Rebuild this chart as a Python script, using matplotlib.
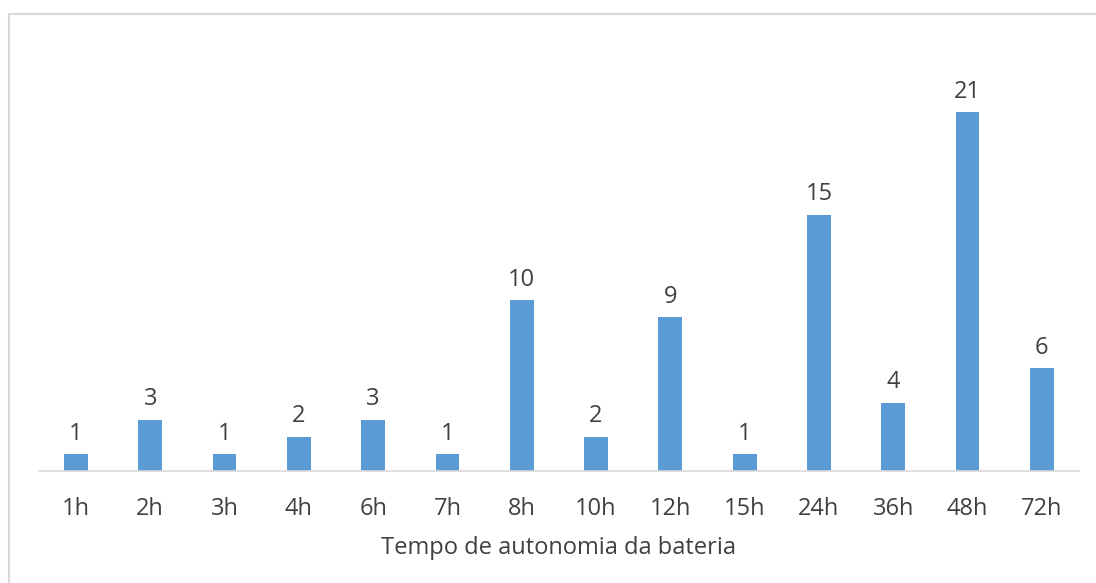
import matplotlib.pyplot as plt
from matplotlib.patches import Rectangle

plt.rcParams['font.family'] = ['Open Sans', 'DejaVu Sans']

categorias = ['1h', '2h', '3h', '4h', '6h', '7h', '8h', '10h', '12h', '15h', '24h', '36h', '48h', '72h']
valores = [1, 3, 1, 2, 3, 1, 10, 2, 9, 1, 15, 4, 21, 6]

fig = plt.figure(figsize=(10.96, 5.83), dpi=100)
ax = fig.add_axes([0.0354, 0.1921, 0.9491, 0.733])

# moldura do grafico
fig.patches.append(Rectangle((9 / 1096, -0.1), 1.2, 1 - 14 / 583 + 0.1,
                             transform=fig.transFigure, fill=False,
                             edgecolor='#d9d9d9', linewidth=1.5))

x = range(len(categorias))
bars = ax.bar(x, valores, width=0.32, color='#5B9BD5')

for b, v in zip(bars, valores):
    ax.annotate(str(v), (b.get_x() + b.get_width() / 2, v),
                xytext=(0, 6), textcoords='offset points',
                ha='center', va='bottom', fontsize=17, color='#404040')

ax.set_xlim(-0.5, len(categorias) - 0.5)
ax.set_ylim(0, 25)
ax.set_xticks(list(x))
ax.set_xticklabels(categorias, fontsize=17, color='#404040')
ax.tick_params(axis='x', length=0, pad=18.5)
ax.set_yticks([])
for s in ['top', 'right', 'left']:
    ax.spines[s].set_visible(False)
ax.spines['bottom'].set_color('#d9d9d9')
ax.spines['bottom'].set_linewidth(1.2)
ax.set_xlabel('Tempo de autonomia da bateria', fontsize=17, color='#404040', labelpad=11)

fig.savefig('out.png', dpi=100)
